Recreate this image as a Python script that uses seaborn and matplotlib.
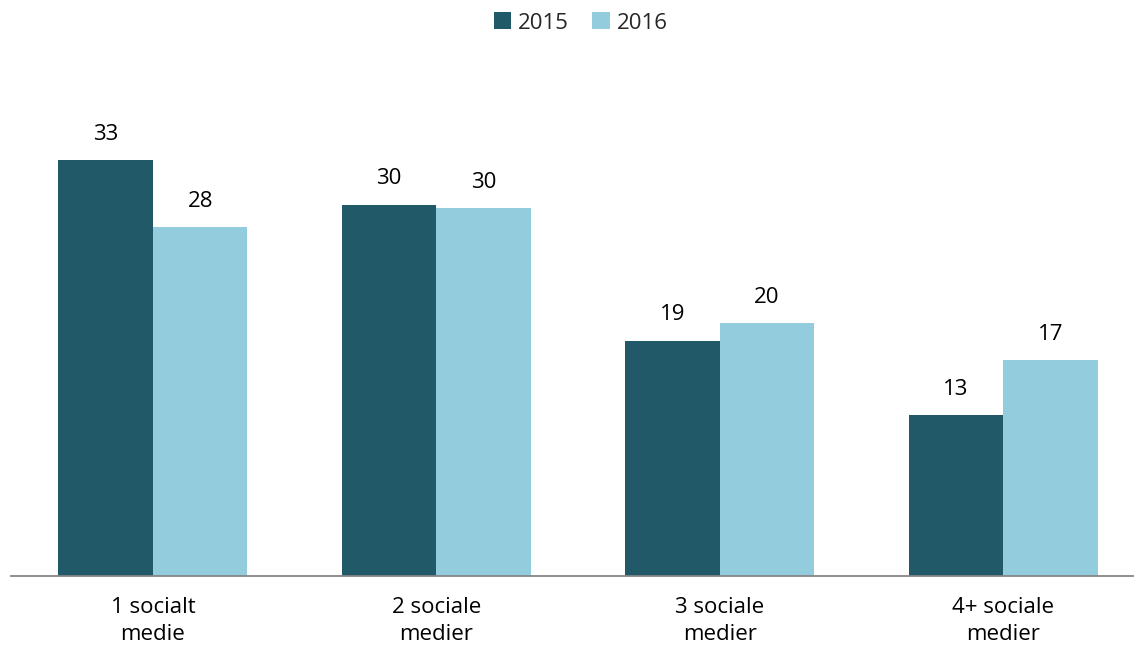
import matplotlib
matplotlib.use("Agg")
import matplotlib.pyplot as plt
import seaborn as sns
import pandas as pd

# Data
categories = ["1 socialt\nmedie", "2 sociale\nmedier", "3 sociale\nmedier", "4+ sociale\nmedier"]
values_2015 = [33.4, 29.8, 18.9, 12.9]
values_2016 = [28.0, 29.5, 20.3, 17.3]
years = ["2015", "2016"]

df = pd.DataFrame({
    "Kategori": categories * 2,
    "Andel": values_2015 + values_2016,
    "År": [years[0]] * 4 + [years[1]] * 4,
})

sns.set_style("white")
plt.rcParams["font.family"] = ["Open Sans", "DejaVu Sans"]

fig = plt.figure(figsize=(11.34, 6.53), dpi=100)
ax = fig.add_axes([11.3 / 1134, 77 / 653, 1 - 11.3 / 1134, 504 / 653])

sns.barplot(data=df, x="Kategori", y="Andel", hue="År",
            palette=["#215968", "#93CDDD"], width=0.667,
            saturation=1, linewidth=0, ax=ax, legend=True)

for cont in ax.containers:
    ax.bar_label(cont, labels=[f"{v:.0f}" for v in cont.datavalues],
                 padding=11, fontsize=16, color="#000000")

ax.set_ylim(0, 40.45)
ax.set_xlim(-0.5, 3.462)
ax.set_xlabel("")
ax.set_ylabel("")
ax.set_yticks([])
for side in ["left", "right", "top"]:
    ax.spines[side].set_visible(False)
ax.spines["bottom"].set_color("#868686")
ax.spines["bottom"].set_linewidth(1.3)
ax.tick_params(axis="x", length=0, pad=15, labelsize=16, labelcolor="#000000")
for lbl in ax.get_xticklabels():
    lbl.set_linespacing(1.4)

leg = ax.legend(loc="center", bbox_to_anchor=(0.5 + 8 / 1123, 1 + (72 - 23) / 504),
                bbox_transform=ax.transAxes, ncol=2, frameon=False, fontsize=16,
                handlelength=0.8, handleheight=0.8, handletextpad=0.3, columnspacing=1.05)

fig.savefig("out.png", dpi=100)
